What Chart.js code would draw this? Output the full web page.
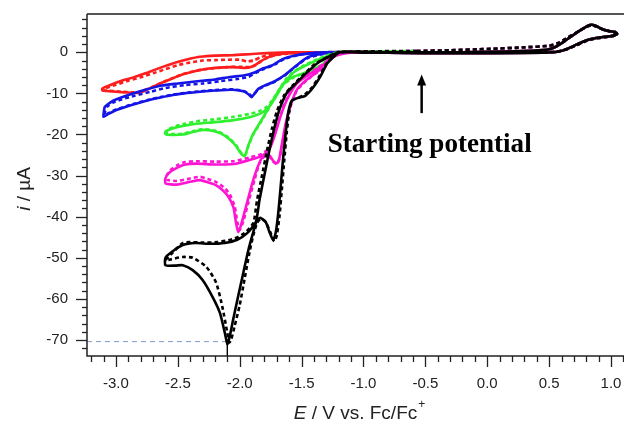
<!DOCTYPE html>
<html>
<head>
<meta charset="utf-8">
<script src="https://cdn.jsdelivr.net/npm/chart.js@4.4.0/dist/chart.umd.min.js"></script>
<style>
html, body { margin: 0; padding: 0; background: #fff; }
canvas { display: block; }
</style>
</head>
<body>
<canvas id="cv" width="624" height="423"></canvas>
<script>
// tick labels
const xTickValues = [-3.0, -2.5, -2.0, -1.5, -1.0, -0.5, 0.0, 0.5, 1.0];
const yTickValues = [-70, -60, -50, -40, -30, -20, -10, 0];

// oxidation part of the scan, shared by all runs: [E (V), i (uA)]
const rightLoopSolid = [[-0.5,0.0],[-0.2,0.0],[0.0,0.1],[0.3,0.3],[0.48,0.6],[0.55,1.3],[0.62,2.6],[0.69,4.1],[0.76,5.5],[0.81,6.4],[0.84,6.7],[0.88,6.4],[0.93,5.6],[0.99,5.1],[1.03,5.0],[1.05,4.5],[1.02,4.0],[0.95,3.8],[0.88,3.5],[0.81,3.0],[0.73,2.0],[0.65,0.9],[0.58,0.2],[0.45,-0.1],[0.0,-0.2],[-0.5,-0.2]];
const rightLoopDashed = [[-0.57,0.3],[-0.3,0.5],[0.0,0.8],[0.3,1.2],[0.5,1.6],[0.57,2.2],[0.64,3.4],[0.72,4.8],[0.79,6.0],[0.84,6.6],[0.88,6.3],[0.95,5.4],[1.02,4.9],[1.05,4.5],[1.0,3.9],[0.9,3.5],[0.81,2.9],[0.72,1.7],[0.63,0.6],[0.55,0.1],[0.3,-0.1],[-0.3,-0.1],[-0.57,-0.1]];

// reduction part of each scan
const redSolid = [[-0.8,-0.1],[-1.0,-0.1],[-1.2,0.0],[-1.4,0.0],[-1.55,-0.1],[-1.65,-0.3],[-1.72,-0.7],[-1.78,-1.3],[-1.83,-2.2],[-1.87,-3.0],[-1.91,-3.6],[-1.96,-3.8],[-2.06,-3.6],[-2.2,-3.8],[-2.32,-4.3],[-2.45,-5.3],[-2.54,-6.3],[-2.62,-7.3],[-2.7,-8.4],[-2.77,-9.4],[-2.82,-9.9],[-2.9,-9.8],[-3.0,-9.6],[-3.11,-9.3],[-3.11,-8.8],[-3.05,-8.0],[-2.99,-7.3],[-2.93,-6.7],[-2.86,-6.1],[-2.78,-5.3],[-2.7,-4.4],[-2.6,-3.3],[-2.51,-2.4],[-2.42,-1.7],[-2.32,-1.1],[-2.2,-0.8],[-2.06,-0.7],[-1.9,-0.4],[-1.78,-0.2],[-1.6,0.0],[-1.35,0.0],[-1.0,0.0],[-0.5,0.0]];
const redDashed = [[-0.8,0.0],[-1.2,0.0],[-1.5,-0.2],[-1.65,-0.4],[-1.75,-1.0],[-1.82,-2.0],[-1.87,-3.1],[-1.92,-3.6],[-2.0,-3.5],[-2.1,-3.6],[-2.3,-4.2],[-2.45,-5.2],[-2.6,-7.0],[-2.72,-8.6],[-2.82,-9.7],[-2.95,-9.6],[-3.1,-9.2],[-3.1,-8.9],[-3.0,-7.9],[-2.9,-6.9],[-2.8,-6.1],[-2.7,-5.1],[-2.6,-4.1],[-2.5,-3.1],[-2.4,-2.5],[-2.3,-2.0],[-2.2,-1.9],[-2.1,-1.8],[-2.0,-1.8],[-1.94,-2.2],[-1.89,-2.0],[-1.83,-1.2],[-1.75,-0.5],[-1.6,-0.2],[-1.35,0.0],[-1.0,0.1],[-0.57,0.3]];

const blueSolid = [[-0.8,-0.1],[-1.0,-0.1],[-1.19,0.0],[-1.32,-0.3],[-1.45,-1.2],[-1.55,-3.4],[-1.63,-5.4],[-1.72,-7.1],[-1.8,-8.1],[-1.85,-8.9],[-1.88,-10.0],[-1.905,-10.9],[-1.93,-10.2],[-1.97,-9.5],[-2.06,-9.1],[-2.2,-9.3],[-2.32,-9.6],[-2.45,-10.0],[-2.54,-10.4],[-2.64,-11.0],[-2.73,-11.6],[-2.86,-12.7],[-2.99,-14.0],[-3.06,-15.0],[-3.1,-15.7],[-3.1,-15.0],[-3.09,-13.3],[-3.05,-12.3],[-3.0,-11.5],[-2.9,-10.4],[-2.77,-9.2],[-2.63,-8.1],[-2.5,-7.6],[-2.36,-7.1],[-2.2,-6.6],[-2.08,-6.0],[-1.96,-5.6],[-1.88,-4.9],[-1.81,-3.9],[-1.74,-3.2],[-1.65,-1.6],[-1.54,-0.7],[-1.41,-0.2],[-1.27,0.0],[-1.0,0.0],[-0.5,0.0]];
const blueDashed = [[-0.8,0.0],[-1.19,0.0],[-1.32,-0.4],[-1.45,-1.4],[-1.55,-3.5],[-1.63,-5.5],[-1.72,-7.2],[-1.8,-8.2],[-1.85,-9.0],[-1.88,-10.1],[-1.9,-10.7],[-1.93,-10.0],[-1.97,-9.4],[-2.06,-9.0],[-2.2,-9.2],[-2.32,-9.5],[-2.45,-9.9],[-2.54,-10.3],[-2.64,-10.9],[-2.73,-11.5],[-2.86,-12.6],[-2.99,-13.8],[-3.06,-14.8],[-3.09,-15.3],[-3.09,-14.6],[-3.07,-13.2],[-3.02,-12.2],[-2.95,-11.4],[-2.85,-10.6],[-2.72,-9.6],[-2.6,-8.7],[-2.45,-8.0],[-2.3,-7.6],[-2.15,-7.0],[-2.02,-6.5],[-1.93,-6.0],[-1.87,-5.0],[-1.8,-4.0],[-1.72,-3.0],[-1.63,-1.5],[-1.52,-0.6],[-1.4,-0.1],[-1.2,0.1],[-0.57,0.3]];

const greenSolid = [[-0.8,-0.1],[-1.0,-0.1],[-1.19,0.0],[-1.26,-1.2],[-1.33,-3.0],[-1.46,-4.8],[-1.57,-6.0],[-1.65,-7.8],[-1.73,-11.6],[-1.81,-15.8],[-1.89,-19.8],[-1.93,-22.6],[-1.96,-25.3],[-1.99,-24.6],[-2.03,-22.8],[-2.08,-21.2],[-2.15,-19.8],[-2.22,-19.1],[-2.3,-18.9],[-2.38,-19.4],[-2.46,-20.0],[-2.55,-20.1],[-2.6,-19.9],[-2.6,-19.3],[-2.55,-18.6],[-2.47,-18.0],[-2.35,-17.4],[-2.2,-17.0],[-2.05,-16.5],[-1.92,-15.8],[-1.84,-15.0],[-1.78,-13.8],[-1.74,-12.3],[-1.7,-10.4],[-1.66,-8.3],[-1.62,-6.6],[-1.56,-4.8],[-1.48,-3.4],[-1.38,-2.0],[-1.28,-0.8],[-1.19,0.0],[-1.0,0.0],[-0.5,0.0]];
const greenDashed = [[-0.8,0.0],[-1.19,0.0],[-1.27,-1.3],[-1.34,-3.1],[-1.46,-4.9],[-1.57,-6.2],[-1.65,-8.0],[-1.73,-11.8],[-1.81,-16.0],[-1.89,-20.0],[-1.93,-22.8],[-1.955,-25.0],[-1.99,-24.4],[-2.03,-22.6],[-2.08,-21.0],[-2.15,-19.6],[-2.22,-18.9],[-2.3,-18.7],[-2.38,-19.2],[-2.46,-19.8],[-2.55,-19.9],[-2.59,-19.6],[-2.59,-19.0],[-2.54,-18.2],[-2.46,-17.5],[-2.35,-16.8],[-2.2,-16.3],[-2.05,-15.7],[-1.92,-15.0],[-1.84,-14.3],[-1.78,-13.2],[-1.74,-11.8],[-1.7,-10.0],[-1.66,-8.0],[-1.62,-6.3],[-1.56,-4.6],[-1.48,-3.2],[-1.38,-1.8],[-1.28,-0.6],[-1.19,0.1],[-0.57,0.3]];

const magentaSolid = [[-0.8,-0.1],[-1.0,-0.1],[-1.19,0.0],[-1.28,-1.6],[-1.35,-4.2],[-1.46,-6.7],[-1.54,-9.2],[-1.59,-13.0],[-1.63,-17.5],[-1.66,-22.5],[-1.68,-25.8],[-1.7,-27.0],[-1.73,-26.4],[-1.76,-25.1],[-1.8,-25.0],[-1.84,-26.8],[-1.89,-31.0],[-1.94,-36.5],[-1.98,-41.0],[-2.01,-43.7],[-2.03,-41.5],[-2.05,-37.8],[-2.09,-35.2],[-2.14,-33.5],[-2.2,-32.2],[-2.26,-31.6],[-2.32,-31.1],[-2.4,-31.5],[-2.51,-32.2],[-2.6,-31.9],[-2.6,-30.6],[-2.57,-29.3],[-2.5,-28.0],[-2.44,-27.3],[-2.35,-27.1],[-2.2,-27.3],[-2.05,-27.2],[-1.92,-26.2],[-1.82,-25.2],[-1.76,-23.5],[-1.72,-20.5],[-1.68,-16.5],[-1.64,-13.0],[-1.59,-9.9],[-1.54,-7.6],[-1.46,-5.8],[-1.38,-4.2],[-1.3,-2.5],[-1.22,-0.8],[-1.1,-0.1],[-0.5,0.0]];
const magentaDashed = [[-0.8,0.0],[-1.19,0.0],[-1.28,-1.7],[-1.35,-4.3],[-1.46,-6.8],[-1.54,-9.4],[-1.59,-13.3],[-1.63,-18.0],[-1.66,-23.0],[-1.68,-26.0],[-1.7,-27.2],[-1.73,-26.6],[-1.76,-25.4],[-1.8,-25.3],[-1.84,-27.0],[-1.88,-31.0],[-1.93,-36.5],[-1.97,-41.0],[-2.0,-43.2],[-2.02,-41.2],[-2.04,-37.6],[-2.08,-34.6],[-2.13,-32.8],[-2.2,-31.4],[-2.26,-30.8],[-2.32,-30.3],[-2.4,-30.7],[-2.51,-31.3],[-2.59,-31.0],[-2.59,-30.0],[-2.56,-28.7],[-2.5,-27.4],[-2.44,-26.7],[-2.35,-26.5],[-2.2,-26.6],[-2.05,-26.5],[-1.92,-25.6],[-1.82,-24.7],[-1.76,-23.2],[-1.72,-20.2],[-1.68,-16.2],[-1.64,-12.7],[-1.59,-9.6],[-1.54,-7.3],[-1.46,-5.6],[-1.38,-4.0],[-1.3,-2.3],[-1.22,-0.6],[-1.1,0.1],[-0.57,0.3]];

const blackSolid = [[-0.8,-0.1],[-1.0,-0.1],[-1.19,0.0],[-1.29,-2.6],[-1.35,-6.0],[-1.41,-8.7],[-1.47,-10.6],[-1.53,-11.1],[-1.58,-11.8],[-1.61,-15.0],[-1.63,-20.0],[-1.65,-26.0],[-1.67,-33.0],[-1.69,-39.5],[-1.71,-44.0],[-1.73,-45.7],[-1.76,-43.7],[-1.79,-41.3],[-1.83,-40.3],[-1.86,-40.8],[-1.89,-43.7],[-1.93,-48.1],[-1.97,-53.5],[-2.01,-59.0],[-2.05,-64.6],[-2.08,-69.0],[-2.1,-71.0],[-2.12,-68.3],[-2.16,-63.4],[-2.22,-59.5],[-2.3,-55.4],[-2.38,-53.0],[-2.46,-51.8],[-2.52,-51.9],[-2.6,-51.8],[-2.6,-50.0],[-2.55,-48.6],[-2.46,-46.9],[-2.36,-46.4],[-2.24,-46.6],[-2.12,-46.4],[-2.02,-45.6],[-1.94,-44.0],[-1.87,-41.3],[-1.84,-35.9],[-1.8,-29.8],[-1.76,-23.8],[-1.72,-18.4],[-1.68,-14.0],[-1.62,-9.9],[-1.55,-7.7],[-1.47,-5.3],[-1.37,-2.6],[-1.27,-0.9],[-1.19,0.0],[-1.0,0.0],[-0.5,0.0]];
const blackDashed = [[-0.8,0.0],[-1.19,0.0],[-1.29,-2.4],[-1.36,-6.0],[-1.42,-8.7],[-1.48,-10.4],[-1.54,-11.2],[-1.58,-11.8],[-1.6,-14.5],[-1.62,-19.5],[-1.64,-26.2],[-1.66,-33.5],[-1.68,-40.2],[-1.7,-44.5],[-1.72,-46.0],[-1.75,-44.0],[-1.79,-41.3],[-1.83,-40.5],[-1.86,-41.5],[-1.89,-44.5],[-1.92,-48.5],[-1.96,-55.0],[-2.0,-61.5],[-2.04,-66.5],[-2.07,-70.0],[-2.085,-70.6],[-2.1,-68.3],[-2.14,-62.0],[-2.19,-56.1],[-2.27,-52.2],[-2.38,-50.0],[-2.46,-49.8],[-2.56,-50.4],[-2.6,-50.6],[-2.56,-49.3],[-2.46,-46.4],[-2.4,-46.2],[-2.3,-46.3],[-2.18,-46.2],[-2.06,-45.5],[-1.96,-44.0],[-1.89,-41.5],[-1.86,-36.0],[-1.82,-30.0],[-1.78,-24.0],[-1.74,-18.6],[-1.7,-14.4],[-1.64,-10.4],[-1.57,-8.0],[-1.49,-5.6],[-1.39,-2.8],[-1.28,-1.0],[-1.19,0.1],[-0.57,0.3]];

// peak marker lines
const peakGuideH = [[-3.234,-70.4],[-2.1,-70.4]];
const peakGuideV = [[-2.1,-71.0],[-2.1,-73.9]];

const colors = {
    black: '#000000',
    magenta: '#ff14d2',
    green: '#2ef02e',
    blue: '#1414e6',
    red: '#ff1c1c'
};

function toXY(list) {
    return list.map(p => ({ x: p[0], y: p[1] }));
}

function scan(color, right, left, dashed) {
    return {
        data: toXY(right.concat(left)),
        borderColor: color,
        borderWidth: 2.6,
        borderDash: dashed ? [4, 3] : [],
        showLine: true,
        pointRadius: 0,
        tension: 0.2,
        fill: false
    };
}

// first dataset is drawn on top
const datasets = [
    scan(colors.black, rightLoopSolid, blackSolid, false),
    scan(colors.black, rightLoopDashed, blackDashed, true),
    scan(colors.magenta, rightLoopSolid, magentaSolid, false),
    scan(colors.magenta, rightLoopDashed, magentaDashed, true),
    scan(colors.green, rightLoopSolid, greenSolid, false),
    scan(colors.green, rightLoopDashed, greenDashed, true),
    scan(colors.blue, rightLoopSolid, blueSolid, false),
    scan(colors.blue, rightLoopDashed, blueDashed, true),
    scan(colors.red, rightLoopSolid, redSolid, false),
    scan(colors.red, rightLoopDashed, redDashed, true),
    { data: toXY(peakGuideH), borderColor: '#7f9ccc', borderWidth: 1, borderDash: [5, 4], showLine: true, pointRadius: 0 },
    { data: toXY(peakGuideV), borderColor: '#000', borderWidth: 1, showLine: true, pointRadius: 0 }
];

// stop Chart.js from reserving room for edge tick labels
function fixPadding(scale) {
    scale.paddingTop = 0;
    scale.paddingBottom = 0;
    scale.paddingLeft = 0;
    scale.paddingRight = 0;
}

/**
 * Axes frame, minor ticks, axis titles and the "Starting potential" note
 */
const framePlugin = {
    id: 'frame',
    afterDraw(chart) {
        const { ctx, chartArea: a, scales: { x, y } } = chart;
        ctx.save();

        // top border
        ctx.strokeStyle = '#555';
        ctx.lineWidth = 2;
        ctx.beginPath();
        ctx.moveTo(a.left, a.top);
        ctx.lineTo(a.right, a.top);
        ctx.stroke();

        // left and bottom axes
        ctx.strokeStyle = '#222';
        ctx.lineWidth = 1.5;
        ctx.beginPath();
        ctx.moveTo(a.left, a.top);
        ctx.lineTo(a.left, a.bottom);
        ctx.lineTo(a.right, a.bottom);
        ctx.stroke();

        // x ticks every 0.1 V
        ctx.lineWidth = 1.3;
        for (let k = -32; k <= 11; k++) {
            const px = Math.round(x.getPixelForValue(k / 10)) + 0.5;
            const len = k % 5 === 0 ? 11 : 6;
            ctx.beginPath();
            ctx.moveTo(px, a.bottom);
            ctx.lineTo(px, a.bottom + len);
            ctx.stroke();
        }
        // y ticks every 2 uA
        for (let v = -72; v <= 8; v += 2) {
            const py = Math.round(y.getPixelForValue(v)) + 0.5;
            const len = v % 10 === 0 ? 11 : 5;
            ctx.beginPath();
            ctx.moveTo(a.left, py);
            ctx.lineTo(a.left - len, py);
            ctx.stroke();
        }

        // y title: i / µA
        ctx.fillStyle = '#222';
        ctx.textBaseline = 'alphabetic';
        ctx.save();
        ctx.translate(30, (a.top + a.bottom) / 2 + 4);
        ctx.rotate(-Math.PI / 2);
        const yParts = [['italic 19px "Liberation Sans", Arial', 'i'], ['19px "Liberation Sans", Arial', ' / µA']];
        let w = 0;
        yParts.forEach(p => { ctx.font = p[0]; w += ctx.measureText(p[1]).width; });
        let cx = -w / 2;
        yParts.forEach(p => { ctx.font = p[0]; ctx.fillText(p[1], cx, 0); cx += ctx.measureText(p[1]).width; });
        ctx.restore();

        // x title: E / V vs. Fc/Fc+
        const xParts = [['italic 19px "Liberation Sans", Arial', 'E'], ['19px "Liberation Sans", Arial', ' / V vs. Fc/Fc']];
        w = 0;
        xParts.forEach(p => { ctx.font = p[0]; w += ctx.measureText(p[1]).width; });
        cx = (a.left + a.right) / 2 - w / 2;
        const baseY = 419;
        xParts.forEach(p => { ctx.font = p[0]; ctx.fillText(p[1], cx, baseY); cx += ctx.measureText(p[1]).width; });
        ctx.font = '12px "Liberation Sans", Arial';
        ctx.fillText('+', cx + 1, baseY - 11);

        // starting potential arrow
        const ax = x.getPixelForValue(-0.53);
        const yTail = y.getPixelForValue(-14.8);
        const yTip = y.getPixelForValue(-5.4);
        ctx.strokeStyle = '#000';
        ctx.fillStyle = '#000';
        ctx.lineWidth = 2.5;
        ctx.beginPath();
        ctx.moveTo(ax, yTail);
        ctx.lineTo(ax, yTip + 8);
        ctx.stroke();
        ctx.beginPath();
        ctx.moveTo(ax, yTip);
        ctx.lineTo(ax - 4.5, yTip + 11);
        ctx.lineTo(ax + 4.5, yTip + 11);
        ctx.closePath();
        ctx.fill();

        // note text
        const label = 'Starting potential';
        ctx.font = 'bold 20px "Liberation Serif", "Times New Roman", serif';
        const size = 20 * 204 / ctx.measureText(label).width;
        ctx.font = 'bold ' + size.toFixed(1) + 'px "Liberation Serif", "Times New Roman", serif';
        ctx.textAlign = 'center';
        ctx.fillText(label, x.getPixelForValue(-0.465), y.getPixelForValue(-24.3));
        ctx.restore();
    }
};

new Chart(document.getElementById('cv'), {
    type: 'scatter',
    data: { datasets: datasets },
    options: {
        responsive: false,
        animation: false,
        devicePixelRatio: 1,
        layout: { padding: { top: 14, right: 0, left: 0, bottom: 0 } },
        plugins: {
            legend: { display: false },
            tooltip: { enabled: false }
        },
        scales: {
            x: {
                type: 'linear',
                min: -3.234,
                max: 1.105,
                grid: { display: false, drawTicks: false },
                border: { display: false },
                afterBuildTicks: scale => { scale.ticks = xTickValues.map(v => ({ value: v })); },
                afterFit: scale => { scale.height = 67; fixPadding(scale); },
                ticks: {
                    padding: 19,
                    color: '#222',
                    font: { family: '"Liberation Sans", Arial', size: 15 },
                    maxRotation: 0,
                    autoSkip: false,
                    callback: v => v.toFixed(1)
                }
            },
            y: {
                type: 'linear',
                min: -73.9,
                max: 9.32,
                grid: { display: false, drawTicks: false },
                border: { display: false },
                afterBuildTicks: scale => { scale.ticks = yTickValues.map(v => ({ value: v })); },
                afterFit: scale => { scale.width = 87; fixPadding(scale); },
                ticks: {
                    padding: 19,
                    color: '#222',
                    font: { family: '"Liberation Sans", Arial', size: 15 },
                    autoSkip: false,
                    callback: v => String(v)
                }
            }
        }
    },
    plugins: [framePlugin]
});
</script>
</body>
</html>
